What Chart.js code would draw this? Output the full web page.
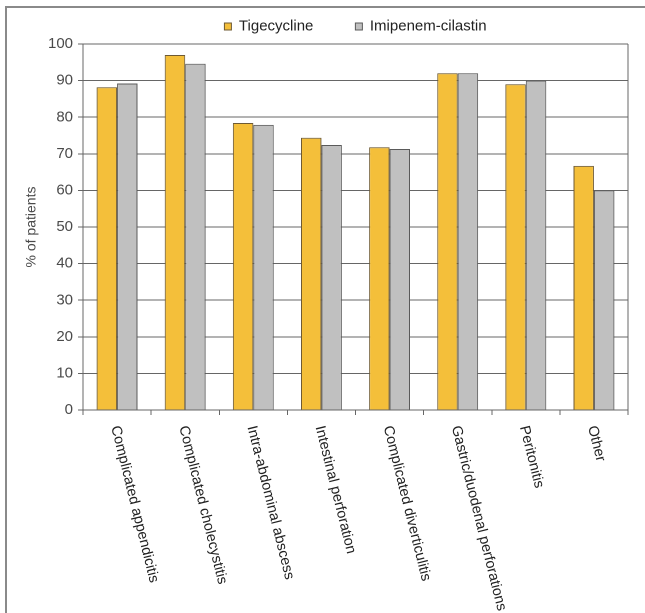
<!DOCTYPE html>
<html>
<head>
<meta charset="utf-8">
<script src="https://cdn.jsdelivr.net/npm/chart.js@4/dist/chart.umd.min.js"></script>
<style>
  html, body { margin: 0; padding: 0; background: #fff; }
  #wrap { position: relative; width: 645px; height: 613px; overflow: hidden; }
  #frame { position: absolute; left: 5px; top: 6px; right: -4px; bottom: -4px;
           border-top: 2px solid #8a8a8a; border-left: 2px solid #8a8a8a; }
  #myChart { position: absolute; left: 0; top: 0; }
</style>
</head>
<body>
<div id="wrap">
  <div id="frame"></div>
  <canvas id="myChart" width="645" height="613"></canvas>
</div>
<script>
const categories = [
    'Complicated appendicitis',
    'Complicated cholecystitis',
    'Intra-abdominal abscess',
    'Intestinal perforation',
    'Complicated diverticulitis',
    'Gastric/duodenal perforations',
    'Peritonitis',
    'Other'
];
const tigecycline = [88.2, 97.0, 78.4, 74.4, 71.8, 92.0, 89.0, 66.7];
const imipenem = [89.2, 94.6, 77.9, 72.4, 71.3, 92.0, 90.0, 60.0];

// legend sits centred over the plot box, not the whole canvas
const legendOverPlot = {
    id: 'legendOverPlot',
    afterLayout(chart) {
        chart.legend.left = chart.chartArea.left;
        chart.legend.right = chart.chartArea.right;
    }
};

// x labels run downwards from each tick, which Chart.js can't do itself
const slantedLabels = {
    id: 'slantedLabels',
    afterDraw(chart) {
        const ctx = chart.ctx;
        const xs = chart.scales.x;
        ctx.save();
        ctx.font = '14.5px "Liberation Sans", Arial, sans-serif';
        ctx.fillStyle = '#222';
        ctx.textAlign = 'left';
        ctx.textBaseline = 'middle';
        categories.forEach((label, i) => {
            ctx.save();
            ctx.translate(xs.getPixelForValue(i) - 2, chart.chartArea.bottom + 16);
            ctx.rotate(76 * Math.PI / 180);
            ctx.fillText(label, 0, 0);
            ctx.restore();
        });
        // right edge of the plot box
        ctx.strokeStyle = '#666';
        ctx.lineWidth = 1;
        ctx.beginPath();
        ctx.moveTo(chart.chartArea.right, chart.chartArea.top);
        ctx.lineTo(chart.chartArea.right, chart.chartArea.bottom);
        ctx.stroke();
        ctx.restore();
    }
};

const ctx = document.getElementById('myChart').getContext('2d');
const myChart = new Chart(ctx, {
    type: 'bar',
    data: {
        labels: categories,
        datasets: [{
            label: 'Tigecycline',
            data: tigecycline,
            backgroundColor: '#f4bf3a',
            borderColor: '#6e5a34',
            borderWidth: 1
        }, {
            label: 'Imipenem-cilastin',
            data: imipenem,
            backgroundColor: '#c0c0c0',
            borderColor: '#5a5a5a',
            borderWidth: 1
        }]
    },
    options: {
        responsive: false,
        animation: false,
        devicePixelRatio: 2,
        layout: {
            // legend padding is big to spread the two items; pull it back up
            padding: {top: -23, right: 17, bottom: 0, left: 0}
        },
        datasets: {
            bar: {
                categoryPercentage: 0.6,
                barPercentage: 1.0
            }
        },
        plugins: {
            legend: {
                display: true,
                labels: {
                    boxWidth: 7,
                    boxHeight: 7,
                    padding: 42,
                    color: '#222',
                    font: {family: '"Liberation Sans", Arial, sans-serif', size: 15}
                }
            },
            tooltip: {enabled: false}
        },
        scales: {
            x: {
                grid: {
                    drawOnChartArea: false,
                    drawTicks: true,
                    tickLength: 5,
                    color: '#666'
                },
                border: {color: '#666'},
                ticks: {display: false},
                afterFit(scale) {
                    scale.height = 203;
                }
            },
            y: {
                min: 0,
                max: 100,
                ticks: {
                    stepSize: 10,
                    padding: 5,
                    color: '#4a4a4a',
                    font: {family: '"Liberation Sans", Arial, sans-serif', size: 15}
                },
                grid: {
                    color: '#666',
                    tickLength: 5
                },
                border: {color: '#666'},
                title: {
                    display: true,
                    text: '% of patients',
                    color: '#4a4a4a',
                    padding: {top: 23, bottom: 0},
                    font: {family: '"Liberation Sans", Arial, sans-serif', size: 14}
                },
                afterFit(scale) {
                    scale.width = 83;
                }
            }
        }
    },
    plugins: [legendOverPlot, slantedLabels]
});
</script>
</body>
</html>
